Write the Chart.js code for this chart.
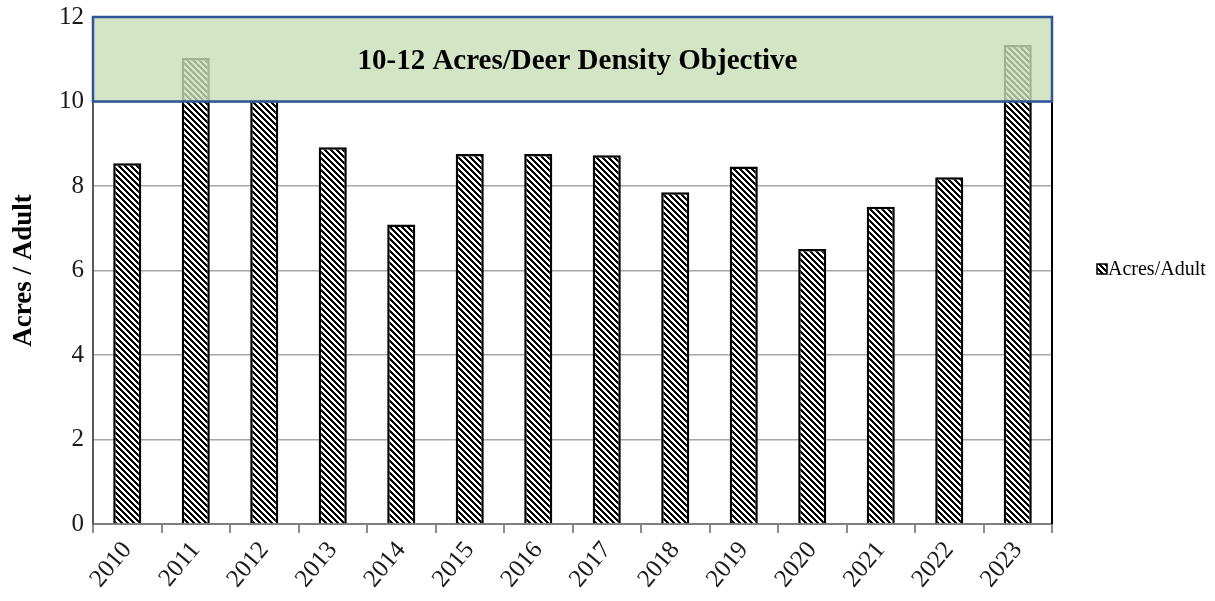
<!DOCTYPE html>
<html lang="en">
<head>
  <meta charset="UTF-8">
  <title>Acres per Adult Deer</title>
  <script src="https://cdn.jsdelivr.net/npm/chart.js"></script>
  <style>
    body { margin: 0; background: #fff; }
    #wrap { width: 1215px; height: 601px; position: relative; }
  </style>
</head>
<body>
  <div id="wrap"><canvas id="deerChart"></canvas></div>
  <script>
    // data
    const years = ['2010', '2011', '2012', '2013', '2014', '2015', '2016', '2017', '2018', '2019', '2020', '2021', '2022', '2023'];
    const acresPerAdult = [8.54, 11.03, 10.04, 8.92, 7.09, 8.76, 8.76, 8.73, 7.85, 8.46, 6.51, 7.51, 8.21, 11.34];
    const objectiveLow = 10;
    const objectiveHigh = 12;
    const objectiveText = '10-12 Acres/Deer Density Objective';
    const seriesName = 'Acres/Adult';
    const yTitle = 'Acres / Adult';

    const serif = '"Liberation Serif", "Times New Roman", serif';

    // hatch pattern like the Excel "wide downward diagonal"
    function makeHatch(size, dark) {
      const c = document.createElement('canvas');
      c.width = size; c.height = size;
      const g = c.getContext('2d');
      const img = g.createImageData(size, size);
      for (let y = 0; y < size; y++) {
        for (let x = 0; x < size; x++) {
          const on = (((x - y) % size) + size) % size < dark;
          const i = (y * size + x) * 4;
          const v = on ? 0 : 255;
          img.data[i] = v; img.data[i + 1] = v; img.data[i + 2] = v; img.data[i + 3] = 255;
        }
      }
      g.putImageData(img, 0, 0);
      return document.getElementById('deerChart').getContext('2d').createPattern(c, 'repeat');
    }
    const hatch = makeHatch(6, 3);

    // green objective band, right frame line and legend
    const extras = {
      id: 'extras',
      afterDatasetsDraw(chart) {
        const { ctx, chartArea, scales } = chart;
        const yTop = scales.y.getPixelForValue(objectiveHigh);
        const yBot = scales.y.getPixelForValue(objectiveLow);
        ctx.save();
        ctx.fillStyle = 'rgba(200,222,182,0.8)';
        ctx.fillRect(chartArea.left, yTop, chartArea.right - chartArea.left, yBot - yTop);
        ctx.strokeStyle = '#2f5597';
        ctx.lineWidth = 2.5;
        ctx.strokeRect(chartArea.left, yTop, chartArea.right - chartArea.left, yBot - yTop);
        ctx.fillStyle = '#000';
        ctx.font = 'bold 29px ' + serif;
        ctx.textAlign = 'center';
        ctx.textBaseline = 'middle';
        ctx.fillText(objectiveText, (chartArea.left + chartArea.right) / 2 + 5, (yTop + yBot) / 2 + 2);

        // right frame
        ctx.strokeStyle = '#000';
        ctx.lineWidth = 2;
        ctx.beginPath();
        ctx.moveTo(chartArea.right, yBot + 1);
        ctx.lineTo(chartArea.right, chartArea.bottom);
        ctx.stroke();

        // legend
        const lx = 1097, ly = 269;
        ctx.fillStyle = hatch;
        ctx.fillRect(lx, ly - 5, 10, 10);
        ctx.strokeStyle = '#000';
        ctx.lineWidth = 1.5;
        ctx.strokeRect(lx, ly - 5, 10, 10);
        ctx.fillStyle = '#000';
        ctx.font = '20px ' + serif;
        ctx.textAlign = 'left';
        ctx.fillText(chart.data.datasets[0].label, lx + 11, ly + 1);
        ctx.restore();
      }
    };

    new Chart(document.getElementById('deerChart'), {
      type: 'bar',
      data: {
        labels: years,
        datasets: [{
          label: seriesName,
          data: acresPerAdult,
          backgroundColor: hatch,
          borderColor: '#000',
          borderWidth: 2.5,
          barPercentage: 0.82,
          categoryPercentage: 0.5
        }]
      },
      options: {
        responsive: true,
        maintainAspectRatio: false,
        animation: false,
        layout: { padding: { left: 8, right: 163, top: 17, bottom: 0 } },
        plugins: { legend: { display: false }, tooltip: { enabled: false } },
        scales: {
          x: {
            grid: { offset: true, drawOnChartArea: false, drawTicks: true, tickLength: 9, color: '#8c8c8c', lineWidth: 2 },
            border: { color: '#7f7f7f', width: 2 },
            ticks: { color: '#1a1a1a', font: { family: serif, size: 25 }, minRotation: 50, maxRotation: 50, padding: 3 },
            afterFit(scale) { scale.height = 77; scale.paddingLeft = 0; scale.paddingRight = 0; }
          },
          y: {
            min: 0,
            max: 12,
            grid: { color: '#a6a6a6', lineWidth: 1.5, drawTicks: false },
            border: { color: '#595959', width: 2 },
            ticks: { stepSize: 2, color: '#1a1a1a', font: { family: serif, size: 25 }, padding: 9 },
            title: { display: true, text: yTitle, color: '#000', font: { family: serif, size: 27, weight: 'bold' }, padding: 0 },
            afterFit(scale) { scale.width = 85; scale.paddingTop = 0; scale.paddingBottom = 0; }
          }
        }
      },
      plugins: [extras]
    });
  </script>
</body>
</html>
